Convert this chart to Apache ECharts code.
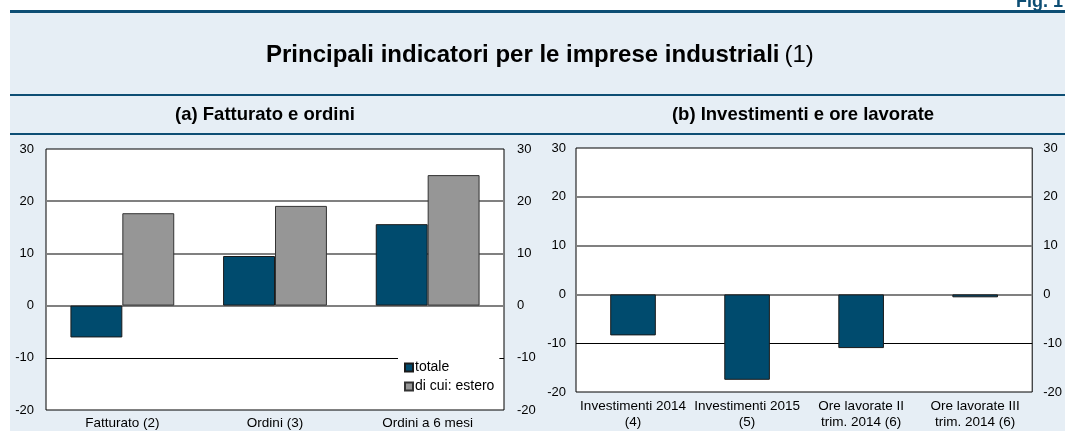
<!DOCTYPE html>
<html>
<head>
<meta charset="utf-8">
<script src="https://cdn.jsdelivr.net/npm/echarts@6/dist/echarts.min.js"></script>
<style>
html,body{margin:0;padding:0;background:#fff;}
#chart{width:1065px;height:433px;}
</style>
</head>
<body>
<div id="chart"></div>
<script>
// ---- data ----
const categoriesA = ['Fatturato (2)', 'Ordini (3)', 'Ordini a 6 mesi'];
const totaleA = [-6.1, 9.5, 15.6];
const esteroA = [17.7, 19.1, 25.0];
const categoriesB = ['Investimenti 2014\n(4)', 'Investimenti 2015\n(5)', 'Ore lavorate II\ntrim. 2014 (6)', 'Ore lavorate III\ntrim. 2014 (6)'];
const valuesB = [-8.4, -17.5, -11.0, -0.6];
const yMin = -20, yMax = 30, yStep = 10;
const legendNames = ['totale', 'di cui: estero'];
const mainTitle = 'Principali indicatori per le imprese industriali';
const mainNote = '(1)';
const panelTitles = ['(a) Fatturato e ordini', '(b) Investimenti e ore lavorate'];
const figLabel = 'Fig. 1';

// ---- styles ----
const FONT = '"Liberation Sans", Arial, Helvetica, sans-serif';
const DARK = '#004b6e';
const GRAY = '#969696';
const BG = '#e6eef5';
const RULE = '#0d4e74';

function yAxisPair(gridIndex, leftMargin, rightMargin) {
  const base = {
    type: 'value', gridIndex: gridIndex, min: yMin, max: yMax, interval: yStep,
    axisLine: {show: false}, axisTick: {show: false},
    axisLabel: {color: '#000', fontSize: 13, fontFamily: FONT}
  };
  return [
    Object.assign({}, base, {
      position: 'left',
      axisLabel: Object.assign({}, base.axisLabel, {margin: leftMargin}),
      splitLine: {show: true, lineStyle: {width: 2, color: ['rgba(0,0,0,0)', 'rgba(0,0,0,0)', '#808080', '#808080', '#808080', 'rgba(0,0,0,0)']}}
    }),
    Object.assign({}, base, {
      position: 'right',
      axisLabel: Object.assign({}, base.axisLabel, {margin: rightMargin}),
      splitLine: {show: true, lineStyle: {width: 1, color: ['rgba(0,0,0,0)', '#000', 'rgba(0,0,0,0)', 'rgba(0,0,0,0)', 'rgba(0,0,0,0)', 'rgba(0,0,0,0)']}}
    })
  ];
}

const chart = echarts.init(document.getElementById('chart'), null, {renderer: 'canvas'});
const option = {
  backgroundColor: '#fff',
  animation: false,
  textStyle: {fontFamily: FONT},
  graphic: [
    {type: 'rect', z: -10, shape: {x: 10, y: 10, width: 1055, height: 421}, style: {fill: BG}},
    {type: 'rect', z: -9, shape: {x: 10, y: 10, width: 1055, height: 3}, style: {fill: RULE}},
    {type: 'rect', z: -9, shape: {x: 10, y: 94, width: 1055, height: 2}, style: {fill: RULE}},
    {type: 'rect', z: -9, shape: {x: 10, y: 133, width: 1055, height: 2}, style: {fill: RULE}},
    {type: 'text', z: 10, left: 1016, top: -7, style: {text: figLabel, font: 'bold 18px ' + FONT, fill: RULE}}
  ],
  title: [
    {
      left: 266, top: 43, padding: 0,
      text: '{b|' + mainTitle + '} {n|' + mainNote + '}',
      textStyle: {
        rich: {
          b: {fontSize: 24, fontWeight: 'bold', color: '#000', fontFamily: FONT},
          n: {fontSize: 24, fontWeight: 'normal', color: '#000', fontFamily: FONT}
        }
      }
    },
    {left: 265, top: 105, padding: 0, textAlign: 'center', text: panelTitles[0],
     textStyle: {fontSize: 18.5, fontWeight: 'bold', color: '#000', fontFamily: FONT}},
    {left: 803, top: 105, padding: 0, textAlign: 'center', text: panelTitles[1],
     textStyle: {fontSize: 18.5, fontWeight: 'bold', color: '#000', fontFamily: FONT}}
  ],
  legend: {
    data: legendNames,
    orient: 'vertical',
    left: 398, top: 357,
    padding: [3, 5, 3, 6],
    itemGap: 4,
    itemWidth: 8, itemHeight: 8,
    icon: 'rect',
    backgroundColor: '#fff',
    selectedMode: false,
    textStyle: {fontSize: 14, color: '#000', fontFamily: FONT, lineHeight: 15, padding: [0, 0, 0, -3]}
  },
  grid: [
    {left: 46, right: 561, top: 149, bottom: 23, show: true, backgroundColor: '#fff', borderColor: '#000', borderWidth: 1},
    {left: 576, right: 32, top: 148, bottom: 41, show: true, backgroundColor: '#fff', borderColor: '#000', borderWidth: 1}
  ],
  xAxis: [
    {type: 'category', gridIndex: 0, data: categoriesA,
     axisLine: {show: false}, axisTick: {show: false}, splitLine: {show: false},
     axisLabel: {color: '#000', fontSize: 13.5, fontFamily: FONT, margin: 6, interval: 0}},
    {type: 'category', gridIndex: 1, data: categoriesB,
     axisLine: {show: false}, axisTick: {show: false}, splitLine: {show: false},
     axisLabel: {color: '#000', fontSize: 13.5, fontFamily: FONT, margin: 6, lineHeight: 16, interval: 0}}
  ],
  yAxis: [].concat(yAxisPair(0, 12, 13), yAxisPair(1, 10, 11)),
  series: [
    {name: legendNames[0], type: 'bar', xAxisIndex: 0, yAxisIndex: 0, data: totaleA,
     barGap: '0%', barCategoryGap: '32%',
     itemStyle: {color: DARK, borderColor: '#1a1a1a', borderWidth: 1}},
    {name: legendNames[1], type: 'bar', xAxisIndex: 0, yAxisIndex: 0, data: esteroA,
     barGap: '0%', barCategoryGap: '32%',
     itemStyle: {color: GRAY, borderColor: '#333', borderWidth: 1}},
    {name: 'panel-b', type: 'bar', xAxisIndex: 1, yAxisIndex: 2, data: valuesB,
     barWidth: '40%',
     itemStyle: {color: DARK, borderColor: '#1a1a1a', borderWidth: 1}}
  ]
};
chart.setOption(option);
</script>
</body>
</html>
